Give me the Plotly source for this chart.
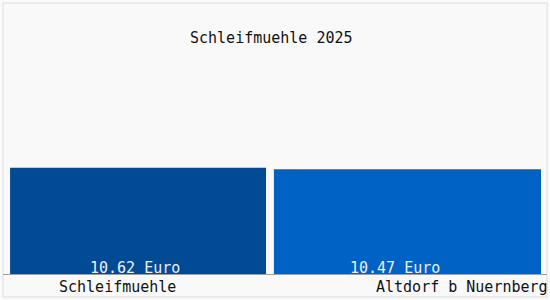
import plotly.graph_objects as go

categories = ["Schleifmuehle", "Altdorf b Nuernberg"]
values = [10.62, 10.47]
value_labels = ["10.62 Euro", "10.47 Euro"]
title_text = "Schleifmuehle 2025"
colors = ["#034a94", "#0062c4"]

W, H = 550, 300
L, R, T, B = 3, 3, 4, 26
pw = W - L - R

def px_to_paper(x):
    return (x - L) / pw

fig = go.Figure()
fig.add_trace(go.Bar(
    x=list(range(len(categories))),
    y=values,
    marker=dict(color=colors, line=dict(width=0)),
    width=[0.941, 0.982],
    offset=[-0.474, -0.504],
    hoverinfo="skip",
))

font_family = "DejaVu Sans Mono"
annotations = [
    dict(text=title_text, x=px_to_paper(271), y=38, xref="paper", yref="paper",
         showarrow=False, font=dict(family=font_family, size=15, color="#111111"),
         xanchor="center", yanchor="middle"),
]
# value labels inside bars
val_centers = [134.5, 394.5]
for i, t in enumerate(value_labels):
    annotations.append(dict(text=t, x=px_to_paper(val_centers[i]), y=0, xref="paper", yref="y",
                            yshift=6, showarrow=False,
                            font=dict(family=font_family, size=15, color="#f0f0f0"),
                            xanchor="center", yanchor="middle"))
# category labels
cat_centers = [117, 462]
for i, c in enumerate(categories):
    annotations.append(dict(text=c, x=px_to_paper(cat_centers[i]), y=0, xref="paper", yref="y",
                            yshift=-13, showarrow=False,
                            font=dict(family=font_family, size=15, color="#111111"),
                            xanchor="center", yanchor="middle"))

# fix title y in paper coords
ph = H - T - B
annotations[0]["y"] = 1 - (38 - T) / ph

fig.update_layout(
    width=W, height=H,
    margin=dict(l=L, r=R, t=T, b=B, pad=0),
    paper_bgcolor="#f9f9f9",
    plot_bgcolor="#f9f9f9",
    showlegend=False,
    xaxis=dict(range=[-0.5, 1.5], showticklabels=False, showgrid=False, zeroline=False,
               showline=True, linecolor="#a0a0a0", linewidth=1, ticks=""),
    yaxis=dict(range=[0, 27.0], showticklabels=False, showgrid=False, zeroline=False,
               showline=False, ticks=""),
    annotations=annotations,
    shapes=[
        dict(type="rect", xref="paper", yref="paper",
             x0=px_to_paper(3), x1=px_to_paper(547),
             y0=-(297 - (H - B)) / ph, y1=1 + (T - 3) / ph,
             line=dict(color="#dddddd", width=1), fillcolor="rgba(0,0,0,0)", layer="below"),
    ],
)

fig.write_html("out.html")
